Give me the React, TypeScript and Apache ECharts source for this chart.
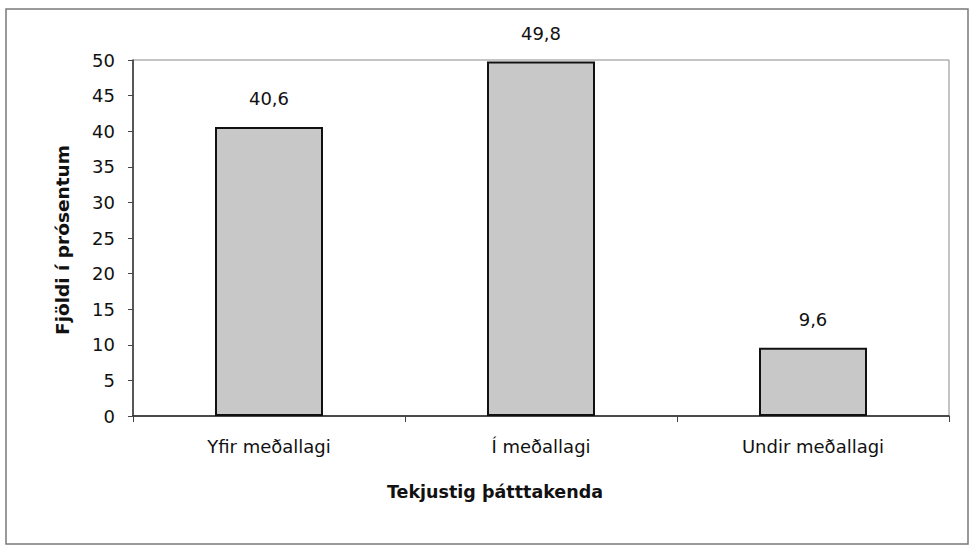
import React, { useEffect, useRef } from "react";
import * as echarts from "echarts";

const categories = ["Yfir meðallagi", "Í meðallagi", "Undir meðallagi"];
const values = [40.6, 49.8, 9.6];
const yTitle = "Fjöldi í prósentum";
const xTitle = "Tekjustig þátttakenda";

const FONT = "'DejaVu Sans', 'Liberation Sans', Arial, sans-serif";
const INK = "#111111";

export default function App() {
  const ref = useRef<HTMLDivElement>(null);
  useEffect(() => {
    if (!ref.current) return;
    const chart = echarts.init(ref.current, undefined, { renderer: "svg" });
    chart.setOption({
      animation: false,
      backgroundColor: "#ffffff",
      textStyle: { fontFamily: FONT },
      grid: {
        left: 133,
        right: 21,
        top: 60,
        bottom: 131,
        show: true,
        borderColor: "#8a8a8a",
        borderWidth: 1,
        backgroundColor: "transparent",
      },
      xAxis: {
        type: "category",
        data: categories,
        axisLine: { show: true, lineStyle: { color: "#222", width: 1.5 } },
        axisTick: { show: true, alignWithLabel: false, interval: 0, length: 6, lineStyle: { color: "#444" } },
        axisLabel: { fontSize: 18, color: INK, margin: 21, fontFamily: FONT },
        splitLine: { show: false },
      },
      yAxis: {
        type: "value",
        min: 0,
        max: 50,
        interval: 5,
        axisLine: { show: true, lineStyle: { color: "#333", width: 1.5 } },
        axisTick: { show: true, length: 5, lineStyle: { color: "#444" } },
        axisLabel: { fontSize: 18, color: INK, margin: 18, fontFamily: FONT },
        splitLine: { show: false },
      },
      series: [
        {
          type: "bar",
          data: values,
          barWidth: 108,
          itemStyle: { color: "#c8c8c8", borderColor: "#111", borderWidth: 2 },
          label: {
            show: true,
            position: "top",
            distance: 19,
            fontSize: 18,
            color: INK,
            fontFamily: FONT,
            formatter: (p: any) => String(p.value).replace(".", ","),
          },
        },
      ],
      graphic: [
        {
          type: "rect",
          shape: { x: 6, y: 9, width: 962, height: 535 },
          style: { fill: "none", stroke: "#7a7a7a", lineWidth: 1.5 },
          silent: true,
        },
        {
          type: "text",
          x: 62,
          y: 240,
          rotation: Math.PI / 2,
          style: {
            text: yTitle,
            fontSize: 18.5,
            fontWeight: "bold",
            fill: INK,
            fontFamily: FONT,
            align: "center",
            verticalAlign: "middle",
          },
        },
        {
          type: "text",
          x: 495,
          y: 492,
          style: {
            text: xTitle,
            fontSize: 17.5,
            fontWeight: "bold",
            fill: INK,
            fontFamily: FONT,
            align: "center",
            verticalAlign: "middle",
          },
        },
      ],
    });
    return () => chart.dispose();
  }, []);
  return (
    <div
      ref={ref}
      style={{ position: "fixed", left: 0, top: 0, width: 970, height: 547, background: "#fff" }}
    />
  );
}
